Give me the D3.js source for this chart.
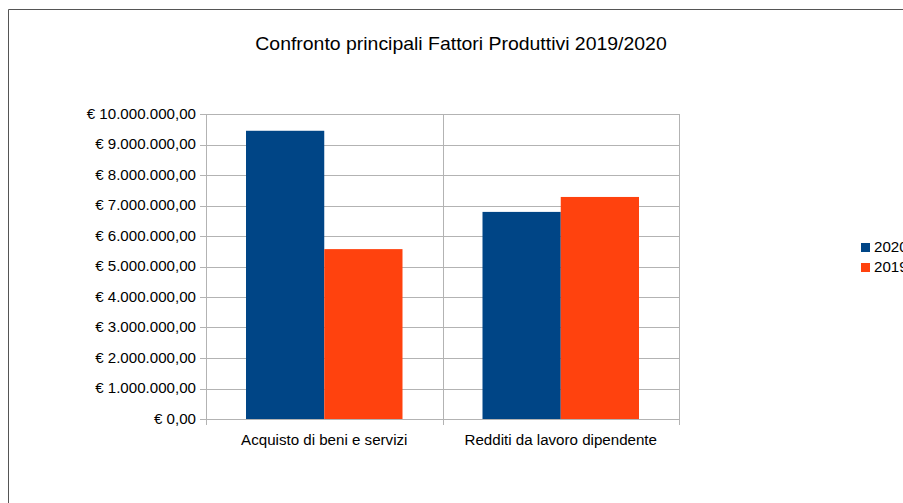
<!DOCTYPE html>
<meta charset="utf-8">
<title>Confronto principali Fattori Produttivi</title>
<style>
body { margin: 0; background: #fff; }
svg { display: block; font-family: "Liberation Sans", Arial, sans-serif; }
</style>
<body>
<svg width="903" height="503"></svg>
<script src="https://d3js.org/d3.v7.min.js"></script>
<script>
// data
var categories = ["Acquisto di beni e servizi", "Redditi da lavoro dipendente"];
var seriesNames = ["2020", "2019"];
var values2020 = [9450000, 6790000];
var values2019 = [5570000, 7280000];
var yTicks = [0, 1e6, 2e6, 3e6, 4e6, 5e6, 6e6, 7e6, 8e6, 9e6, 10e6];
var colors = ["#004586", "#ff420e"];

var svg = d3.select("svg");
var stretch = 1.08; // the original text is a touch wider than Liberation Sans

// place a text at (x,y) with a slight horizontal stretch
function placed(x, y) {
  return "translate(" + x + "," + y + ") scale(" + stretch + ",1)";
}

// outer frame (left + top only visible)
svg.append("path")
  .attr("d", "M8.5,503V9.5H903")
  .attr("fill", "none")
  .attr("stroke", "#555")
  .attr("stroke-width", 1);

svg.append("text")
  .attr("transform", placed(461, 50))
  .attr("text-anchor", "middle")
  .attr("font-size", 18)
  .attr("fill", "#000")
  .text("Confronto principali Fattori Produttivi 2019/2020");

var margin = {left: 206, top: 114, right: 679, bottom: 419};

var x0 = d3.scaleBand().domain(categories).range([margin.left, margin.right]);
var x1 = d3.scaleBand().domain(seriesNames).range([40, x0.bandwidth() - 40]);
var y = d3.scaleLinear().domain([0, 10e6]).range([margin.bottom, margin.top]);

var fmt = function(v) {
  var s = d3.format(",.2f")(v);
  s = s.replace(/,/g, "#").replace(".", ",").replace(/#/g, ".");
  return "€ " + s;
};

// horizontal grid
svg.append("g").selectAll("line")
  .data(yTicks)
  .enter().append("line")
    .attr("x1", margin.left - 6)
    .attr("x2", margin.right)
    .attr("y1", function(d) { return Math.round(y(d)) + 0.5; })
    .attr("y2", function(d) { return Math.round(y(d)) + 0.5; })
    .attr("stroke", "#b3b3b3");

// vertical category dividers
var divs = [margin.left, x0(categories[1]), margin.right];
svg.append("g").selectAll("line")
  .data(divs)
  .enter().append("line")
    .attr("x1", function(d) { return Math.round(d) + 0.5; })
    .attr("x2", function(d) { return Math.round(d) + 0.5; })
    .attr("y1", margin.top)
    .attr("y2", margin.bottom + 6)
    .attr("stroke", "#b3b3b3");

// y labels
svg.append("g").selectAll("text")
  .data(yTicks)
  .enter().append("text")
    .attr("transform", function(d) { return placed(196, y(d)); })
    .attr("dy", "0.35em")
    .attr("text-anchor", "end")
    .attr("font-size", 14)
    .attr("fill", "#000")
    .text(fmt);

// bars
var rows = categories.map(function(c, i) {
  return {cat: c, vals: [{k: "2020", v: values2020[i]}, {k: "2019", v: values2019[i]}]};
});
svg.append("g").selectAll("g")
  .data(rows)
  .enter().append("g")
    .attr("transform", function(d) { return "translate(" + x0(d.cat) + ",0)"; })
  .selectAll("rect")
  .data(function(d) { return d.vals; })
  .enter().append("rect")
    .attr("x", function(d) { return x1(d.k); })
    .attr("y", function(d) { return y(d.v); })
    .attr("width", x1.bandwidth())
    .attr("height", function(d) { return y(0) - y(d.v); })
    .attr("fill", function(d, i) { return colors[i]; });

// category labels
svg.append("g").selectAll("text")
  .data(categories)
  .enter().append("text")
    .attr("transform", function(d) { return placed(x0(d) + x0.bandwidth() / 2, 445); })
    .attr("text-anchor", "middle")
    .attr("font-size", 14)
    .attr("fill", "#000")
    .text(function(d) { return d; });

// legend
var legend = svg.append("g").selectAll("g")
  .data(seriesNames)
  .enter().append("g")
    .attr("transform", function(d, i) { return "translate(861," + (243 + i * 20) + ")"; });
legend.append("rect")
  .attr("width", 9).attr("height", 9)
  .attr("fill", function(d, i) { return colors[i]; });
legend.append("text")
  .attr("transform", placed(13, 4.5))
  .attr("dy", "0.35em")
  .attr("font-size", 14)
  .attr("fill", "#000")
  .text(function(d) { return d; });
</script>
</body>
